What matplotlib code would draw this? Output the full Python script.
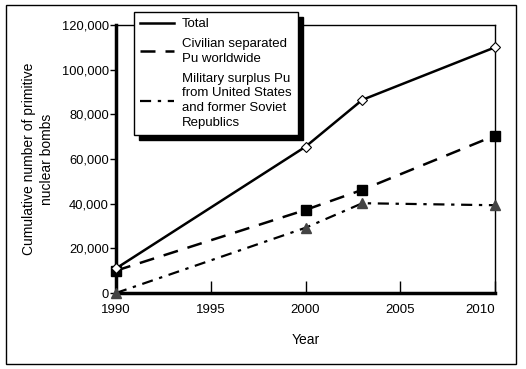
import matplotlib
matplotlib.use("Agg")
import matplotlib.pyplot as plt
from matplotlib.patches import Rectangle

plt.rcParams['font.family'] = ['Liberation Sans', 'DejaVu Sans']

# data
years = [1990, 2000, 2003, 2010]
total = [11000, 65500, 86500, 110000]
civilian = [10000, 37200, 46200, 70500]
military = [0, 29200, 40200, 39300]

labels = ["Total",
          "Civilian separated\nPu worldwide",
          "Military surplus Pu\nfrom United States\nand former Soviet\nRepublics"]
xticks = [1990, 1995, 2000, 2005, 2010]
yticks = [0, 20000, 40000, 60000, 80000, 100000, 120000]

fig = plt.figure(figsize=(5.26, 3.69), dpi=100)
ax = fig.add_axes([116/526, 1-293/369, (495-116)/526, (293-25)/369])

ax.plot(years, total, '-', color='black', lw=1.8, marker='D', ms=5,
        mfc='white', mec='black', mew=0.8, clip_on=False, zorder=5, label=labels[0])
ax.plot(years, civilian, color='black', lw=1.8, dashes=(6, 4), marker='s', ms=7,
        mfc='black', mec='black', clip_on=False, zorder=4, label=labels[1])
ax.plot(years, military, color='black', lw=1.6, dashes=(5, 3, 1.5, 3), marker='^', ms=7,
        mfc='#444444', mec='#444444', clip_on=False, zorder=4, label=labels[2])

ax.set_xlim(1990, 2010)
ax.set_ylim(0, 120000)
ax.set_xticks(xticks)
ax.set_yticks(yticks)
ax.set_yticklabels([f"{v:,}" for v in yticks])
ax.tick_params(axis='x', direction='in', length=9, width=1, labelsize=9.5, pad=8)
ax.tick_params(axis='y', direction='out', length=4, width=1, labelsize=9.3, pad=1)
ax.get_xticklabels()[-1].set_horizontalalignment('right')
ax.get_xticklabels()[-1].set_x(2010.7)

ax.spines['left'].set_linewidth(2.5)
ax.spines['bottom'].set_linewidth(2.5)
ax.spines['top'].set_linewidth(1)
ax.spines['right'].set_linewidth(1)

ax.set_xlabel("Year", fontsize=10, labelpad=12)
ax.set_ylabel("Cumulative number of primitive\nnuclear bombs", fontsize=10, labelpad=6,
              linespacing=1.35)

leg = fig.legend(loc='upper left', bbox_to_anchor=(134/526, 1-12/369), borderaxespad=0,
                 fancybox=False, framealpha=1, edgecolor='black', fontsize=9.5,
                 handlelength=2.6, labelspacing=0.6, borderpad=0.45, handletextpad=0.6,
                 shadow={'ox': 3.5, 'oy': -3.5, 'color': 'black', 'alpha': 1})
leg.get_frame().set_linewidth(1)
for t in leg.get_texts():
    t.set_linespacing(1.3)
for line in leg.get_lines():
    line.set_marker('')

fig.patches.append(Rectangle((6/526, 5/369), 510/526, 359/369, transform=fig.transFigure,
                             fill=False, edgecolor='black', lw=1))

fig.savefig('out.png', dpi=100)
